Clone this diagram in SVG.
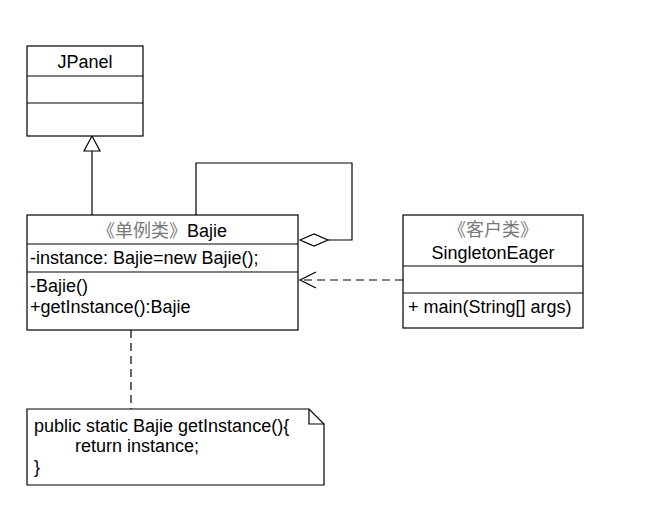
<svg xmlns="http://www.w3.org/2000/svg" width="649" height="506" viewBox="0 0 649 506">
<style>
.box{fill:#fff;stroke:#000;stroke-width:1.2}
.ln{fill:none;stroke:#000;stroke-width:1.2}
.dash{fill:none;stroke:#000;stroke-width:1.2;stroke-dasharray:8,5}
text{font-family:"Liberation Sans",Arial,"Noto Sans CJK SC",sans-serif;font-size:18px;fill:#000}
.c{text-anchor:middle}
.st{fill:#777}
</style>
<rect width="649" height="506" fill="#fff"/>
<g id="connectors">
<path class="ln" d="M92,215 V151"/>
<path class="box" d="M92,136 L84,151 L100,151 Z"/>
<path class="ln" d="M196,215 V163 H352 V240 H328"/>
<path class="box" d="M300,240 L314,234 L328,240 L314,246 Z"/>
<path class="dash" d="M403,280 H302"/>
<path class="ln" d="M316,272 L300,280 L316,288"/>
<path class="dash" d="M131,330 V409"/>
</g>
<g id="JPanel">
<rect class="box" x="27" y="46" width="116" height="90"/>
<path class="ln" d="M27,76 H143 M27,103 H143"/>
<text class="c" x="85" y="68">JPanel</text>
</g>
<g id="Bajie">
<rect class="box" x="27" y="215" width="271" height="115"/>
<path class="ln" d="M27,244 H298 M27,272 H298"/>
<text class="c" x="162" y="237"><tspan class="st">《单例类》</tspan>Bajie</text>
<text x="30" y="264">-instance: Bajie=new Bajie();</text>
<text x="30" y="292">-Bajie()</text>
<text x="30" y="313">+getInstance():Bajie</text>
</g>
<g id="SingletonEager">
<rect class="box" x="403" y="215" width="180" height="113"/>
<path class="ln" d="M403,266 H583 M403,293 H583"/>
<text class="c st" x="493" y="236">《客户类》</text>
<text class="c" x="493" y="259">SingletonEager</text>
<text x="408" y="313">+ main(String[] args)</text>
</g>
<g id="note">
<path class="box" d="M27,409 H309 L324,424 V485 H27 Z"/>
<path class="ln" d="M309,409 V424 H324"/>
<text x="34" y="432">public static Bajie getInstance(){</text>
<text x="75" y="452">return instance;</text>
<text x="34" y="473">}</text>
</g>
</svg>
